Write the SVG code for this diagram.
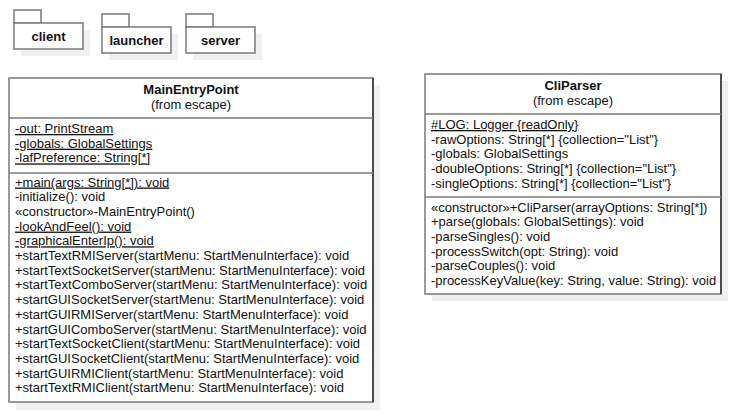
<svg xmlns="http://www.w3.org/2000/svg" width="731" height="413" viewBox="0 0 731 413">
<style>
text{font-family:"Liberation Sans",Arial,sans-serif;font-size:13px;fill:#111}
.t{font-weight:bold;text-anchor:middle}
.s{text-anchor:middle}
.pk{font-weight:bold;text-anchor:middle}
.u{text-decoration:underline}
.shadow{fill:#f0f0f0;stroke:none}
.box{fill:#fff;stroke:#7a7a7a;stroke-width:1.5}
.edge{stroke:#333;stroke-width:1.5}
.div{stroke:#7a7a7a;stroke-width:1.5}
</style>
<rect width="731" height="413" fill="#fff"/>
<g id="pkg-client">
<rect class="shadow" x="21" y="30" width="69" height="26"/>
<rect class="box" x="14" y="10" width="27" height="13"/>
<rect class="box" x="14" y="23" width="69" height="26"/>
<text class="pk" x="48.5" y="41">client</text>
</g>
<g id="pkg-launcher">
<rect class="shadow" x="109" y="34" width="69" height="26"/>
<rect class="box" x="102" y="14" width="27" height="13"/>
<rect class="box" x="102" y="27" width="69" height="26"/>
<text class="pk" x="136.5" y="45">launcher</text>
</g>
<g id="pkg-server">
<rect class="shadow" x="193" y="34" width="69" height="26"/>
<rect class="box" x="186" y="14" width="27" height="13"/>
<rect class="box" x="186" y="27" width="69" height="26"/>
<text class="pk" x="220.5" y="45">server</text>
</g>
<g id="MainEntryPoint">
<rect class="shadow" x="16" y="85" width="364" height="325"/>
<rect class="box" x="9" y="78" width="364" height="324"/>
<line class="edge" x1="373" y1="78" x2="373" y2="402"/>
<line class="div" x1="9" y1="118" x2="373" y2="118"/>
<line class="div" x1="9" y1="173" x2="373" y2="173"/>
<text class="t" x="191" y="94">MainEntryPoint</text>
<text class="s" x="191" y="109">(from escape)</text>
<text x="15" y="133" class="u">-out: PrintStream</text>
<text x="15" y="147.7" class="u">-globals: GlobalSettings</text>
<text x="15" y="162.4" class="u">-lafPreference: String[*]</text>
<text x="15" y="186.5" class="u">+main(args: String[*]): void</text>
<text x="15" y="201.2">-initialize(): void</text>
<text x="15" y="215.9">«constructor»-MainEntryPoint()</text>
<text x="15" y="230.6" class="u">-lookAndFeel(): void</text>
<text x="15" y="245.3" class="u">-graphicalEnterIp(): void</text>
<text x="15" y="260">+startTextRMIServer(startMenu: StartMenuInterface): void</text>
<text x="15" y="274.7">+startTextSocketServer(startMenu: StartMenuInterface): void</text>
<text x="15" y="289.4">+startTextComboServer(startMenu: StartMenuInterface): void</text>
<text x="15" y="304.1">+startGUISocketServer(startMenu: StartMenuInterface): void</text>
<text x="15" y="318.8">+startGUIRMIServer(startMenu: StartMenuInterface): void</text>
<text x="15" y="333.5">+startGUIComboServer(startMenu: StartMenuInterface): void</text>
<text x="15" y="348.2">+startTextSocketClient(startMenu: StartMenuInterface): void</text>
<text x="15" y="362.9">+startGUISocketClient(startMenu: StartMenuInterface): void</text>
<text x="15" y="377.6">+startGUIRMIClient(startMenu: StartMenuInterface): void</text>
<text x="15" y="392.3">+startTextRMIClient(startMenu: StartMenuInterface): void</text>
</g>
<g id="CliParser">
<rect class="shadow" x="432" y="81" width="296" height="220"/>
<rect class="box" x="425" y="74" width="296" height="220"/>
<line class="edge" x1="721" y1="74" x2="721" y2="294"/>
<line class="div" x1="425" y1="114" x2="721" y2="114"/>
<line class="div" x1="425" y1="197" x2="721" y2="197"/>
<text class="t" x="573" y="90">CliParser</text>
<text class="s" x="573" y="105">(from escape)</text>
<text x="431" y="129" class="u">#LOG: Logger {readOnly}</text>
<text x="431" y="143.7">-rawOptions: String[*] {collection="List"}</text>
<text x="431" y="158.4">-globals: GlobalSettings</text>
<text x="431" y="173.1">-doubleOptions: String[*] {collection="List"}</text>
<text x="431" y="187.8">-singleOptions: String[*] {collection="List"}</text>
<text x="431" y="211.5">«constructor»+CliParser(arrayOptions: String[*])</text>
<text x="431" y="226.2">+parse(globals: GlobalSettings): void</text>
<text x="431" y="240.9">-parseSingles(): void</text>
<text x="431" y="255.6">-processSwitch(opt: String): void</text>
<text x="431" y="270.3">-parseCouples(): void</text>
<text x="431" y="285">-processKeyValue(key: String, value: String): void</text>
</g>
<g id="connectors"></g>
</svg>
